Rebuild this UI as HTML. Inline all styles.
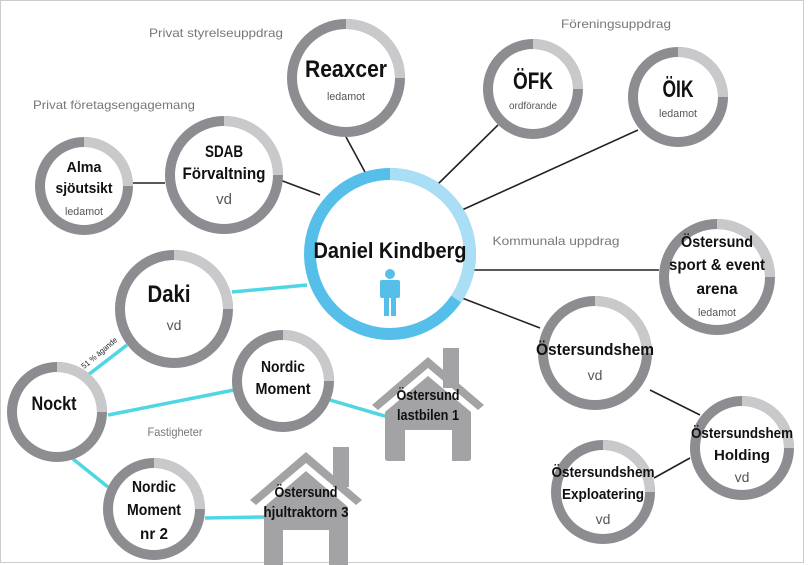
<!DOCTYPE html>
<html><head><meta charset="utf-8"><style>
html,body{margin:0;padding:0;background:#fff}
svg{display:block}
text{font-family:"Liberation Sans",sans-serif;text-anchor:middle}
.t{font-weight:bold;fill:#111}
.s{fill:#555}
.c{fill:#777;font-size:12px}
</style></head><body>
<svg width="810" height="565" viewBox="0 0 810 565" xmlns="http://www.w3.org/2000/svg">
<rect x="0.5" y="0.5" width="803" height="562" fill="#fff" stroke="#ccc"/>
<g stroke="#222" stroke-width="1.6">
<line x1="346" y1="137" x2="365" y2="172"/>
<line x1="498" y1="125" x2="437" y2="185"/>
<line x1="638" y1="130" x2="462" y2="210"/>
<line x1="280" y1="180" x2="320" y2="195"/>
<line x1="133" y1="183" x2="165" y2="183"/>
<line x1="474" y1="270" x2="659" y2="270"/>
<line x1="462" y1="298" x2="540" y2="328"/>
<line x1="650" y1="390" x2="700" y2="415"/>
<line x1="654" y1="478" x2="690" y2="458"/>
</g>
<g stroke="#4fd6e4" stroke-width="3.5">
<line x1="232" y1="292" x2="307" y2="285"/>
<line x1="127" y1="345" x2="88" y2="375"/>
<line x1="108" y1="415" x2="234" y2="390"/>
<line x1="73" y1="459" x2="108" y2="487"/>
<line x1="330" y1="400" x2="388" y2="417"/>
<line x1="205" y1="518" x2="265" y2="517"/>
</g>
<g stroke-width="10" fill="#fff">
<circle cx="346" cy="78" r="54" stroke="#8c8c91"/><path d="M346 24 A54 54 0 0 1 400 78" fill="none" stroke="#c9c9cc"/>
<circle cx="533" cy="89" r="45" stroke="#8c8c91"/><path d="M533 44 A45 45 0 0 1 578 89" fill="none" stroke="#c9c9cc"/>
<circle cx="678" cy="97" r="45" stroke="#8c8c91"/><path d="M678 52 A45 45 0 0 1 723 97" fill="none" stroke="#c9c9cc"/>
<circle cx="224" cy="175" r="54" stroke="#8c8c91"/><path d="M224 121 A54 54 0 0 1 278 175" fill="none" stroke="#c9c9cc"/>
<circle cx="84" cy="186" r="44" stroke="#8c8c91"/><path d="M84 142 A44 44 0 0 1 128 186" fill="none" stroke="#c9c9cc"/>
<circle cx="717" cy="277" r="53" stroke="#8c8c91"/><path d="M717 224 A53 53 0 0 1 770 277" fill="none" stroke="#c9c9cc"/>
<circle cx="174" cy="309" r="54" stroke="#8c8c91"/><path d="M174 255 A54 54 0 0 1 228 309" fill="none" stroke="#c9c9cc"/>
<circle cx="595" cy="353" r="52" stroke="#8c8c91"/><path d="M595 301 A52 52 0 0 1 647 353" fill="none" stroke="#c9c9cc"/>
<circle cx="283" cy="381" r="46" stroke="#8c8c91"/><path d="M283 335 A46 46 0 0 1 329 381" fill="none" stroke="#c9c9cc"/>
<circle cx="57" cy="412" r="45" stroke="#8c8c91"/><path d="M57 367 A45 45 0 0 1 102 412" fill="none" stroke="#c9c9cc"/>
<circle cx="154" cy="509" r="46" stroke="#8c8c91"/><path d="M154 463 A46 46 0 0 1 200 509" fill="none" stroke="#c9c9cc"/>
<circle cx="742" cy="448" r="47" stroke="#8c8c91"/><path d="M742 401 A47 47 0 0 1 789 448" fill="none" stroke="#c9c9cc"/>
<circle cx="603" cy="492" r="47" stroke="#8c8c91"/><path d="M603 445 A47 47 0 0 1 650 492" fill="none" stroke="#c9c9cc"/>
</g>
<circle cx="390" cy="254" r="80" fill="#fff" stroke="#55bfea" stroke-width="12"/>
<path d="M390 174 A80 80 0 0 1 456 299" fill="none" stroke="#a9def5" stroke-width="12"/>
<g fill="#55bfea">
<circle cx="390" cy="274" r="5"/>
<rect x="380" y="280" width="20" height="18" rx="2"/>
<rect x="384" y="296" width="5" height="20"/><rect x="391" y="296" width="5" height="20"/>
</g>
<g fill="#a3a3a6">
<rect x="443" y="348" width="16" height="40"/>
<path d="M372 405 L428 357 L484 405 L478 410 L428 368 L378 410Z"/>
<path d="M385 412 L428 376 L471 412 L471 458 Q471 461 468 461 L452 461 L452 430 L405 430 L405 461 L388 461 Q385 461 385 458Z"/>
<rect x="333" y="447" width="16" height="40"/>
<path d="M250 500 L306 452 L362 500 L356 505 L306 463 L256 505Z"/>
<path d="M264 507 L306 471 L348 507 L348 565 L329 565 L329 530 L283 530 L283 565 L264 565Z"/>
</g>
<g lengthAdjust="spacingAndGlyphs">
<text class="c" x="216" y="37" textLength="134" lengthAdjust="spacingAndGlyphs">Privat styrelseuppdrag</text>
<text class="c" x="114" y="109" textLength="162" lengthAdjust="spacingAndGlyphs">Privat företagsengagemang</text>
<text class="c" x="616" y="28" textLength="110" lengthAdjust="spacingAndGlyphs">Föreningsuppdrag</text>
<text class="c" x="556" y="245" textLength="127" lengthAdjust="spacingAndGlyphs">Kommunala uppdrag</text>
<text class="c" x="175" y="436" font-size="11" textLength="55" lengthAdjust="spacingAndGlyphs">Fastigheter</text>
<text x="101" y="355" font-size="8" fill="#222" transform="rotate(-40 101 355)" textLength="44" lengthAdjust="spacingAndGlyphs">51 % ägande</text>

<text class="t" x="346" y="77" font-size="24" textLength="82" lengthAdjust="spacingAndGlyphs">Reaxcer</text>
<text class="s" x="346" y="100" font-size="11" textLength="38" lengthAdjust="spacingAndGlyphs">ledamot</text>
<text class="t" x="533" y="89" font-size="24" textLength="40" lengthAdjust="spacingAndGlyphs">ÖFK</text>
<text class="s" x="533" y="109" font-size="10" textLength="48" lengthAdjust="spacingAndGlyphs">ordförande</text>
<text class="t" x="678" y="97" font-size="24" textLength="31" lengthAdjust="spacingAndGlyphs">ÖIK</text>
<text class="s" x="678" y="117" font-size="11" textLength="38" lengthAdjust="spacingAndGlyphs">ledamot</text>
<text class="t" x="224" y="157" font-size="17" textLength="38" lengthAdjust="spacingAndGlyphs">SDAB</text>
<text class="t" x="224" y="179" font-size="17" textLength="83" lengthAdjust="spacingAndGlyphs">Förvaltning</text>
<text class="s" x="224" y="204" font-size="15">vd</text>
<text class="t" x="84" y="172" font-size="15" textLength="35" lengthAdjust="spacingAndGlyphs">Alma</text>
<text class="t" x="84" y="193" font-size="15" textLength="57" lengthAdjust="spacingAndGlyphs">sjöutsikt</text>
<text class="s" x="84" y="215" font-size="11" textLength="38" lengthAdjust="spacingAndGlyphs">ledamot</text>
<text class="t" x="390" y="258" font-size="22" textLength="153" lengthAdjust="spacingAndGlyphs">Daniel Kindberg</text>
<text class="t" x="717" y="247" font-size="16" textLength="72" lengthAdjust="spacingAndGlyphs">Östersund</text>
<text class="t" x="717" y="270" font-size="16" textLength="96" lengthAdjust="spacingAndGlyphs">sport &amp; event</text>
<text class="t" x="717" y="294" font-size="16" textLength="41" lengthAdjust="spacingAndGlyphs">arena</text>
<text class="s" x="717" y="316" font-size="11" textLength="38" lengthAdjust="spacingAndGlyphs">ledamot</text>
<text class="t" x="169" y="302" font-size="24" textLength="43" lengthAdjust="spacingAndGlyphs">Daki</text>
<text class="s" x="174" y="330" font-size="14">vd</text>
<text class="t" x="595" y="355" font-size="17" textLength="118" lengthAdjust="spacingAndGlyphs">Östersundshem</text>
<text class="s" x="595" y="380" font-size="14">vd</text>
<text class="t" x="283" y="372" font-size="16" textLength="44" lengthAdjust="spacingAndGlyphs">Nordic</text>
<text class="t" x="283" y="394" font-size="16" textLength="55" lengthAdjust="spacingAndGlyphs">Moment</text>
<text class="t" x="54" y="410" font-size="19" textLength="45" lengthAdjust="spacingAndGlyphs">Nockt</text>
<text class="t" x="154" y="492" font-size="16" textLength="44" lengthAdjust="spacingAndGlyphs">Nordic</text>
<text class="t" x="154" y="515" font-size="16" textLength="54" lengthAdjust="spacingAndGlyphs">Moment</text>
<text class="t" x="154" y="539" font-size="16" textLength="28" lengthAdjust="spacingAndGlyphs">nr 2</text>
<text class="t" x="742" y="438" font-size="15" textLength="102" lengthAdjust="spacingAndGlyphs">Östersundshem</text>
<text class="t" x="742" y="460" font-size="15" textLength="56" lengthAdjust="spacingAndGlyphs">Holding</text>
<text class="s" x="742" y="482" font-size="14">vd</text>
<text class="t" x="603" y="477" font-size="15" textLength="103" lengthAdjust="spacingAndGlyphs">Östersundshem</text>
<text class="t" x="603" y="499" font-size="15" textLength="82" lengthAdjust="spacingAndGlyphs">Exploatering</text>
<text class="s" x="603" y="524" font-size="14">vd</text>
<text class="t" x="428" y="400" font-size="15" textLength="63" lengthAdjust="spacingAndGlyphs">Östersund</text>
<text class="t" x="428" y="420" font-size="15" textLength="62" lengthAdjust="spacingAndGlyphs">lastbilen 1</text>
<text class="t" x="306" y="497" font-size="15" textLength="63" lengthAdjust="spacingAndGlyphs">Östersund</text>
<text class="t" x="306" y="517" font-size="15" textLength="85" lengthAdjust="spacingAndGlyphs">hjultraktorn 3</text>
</g>
</svg>
</body></html>
